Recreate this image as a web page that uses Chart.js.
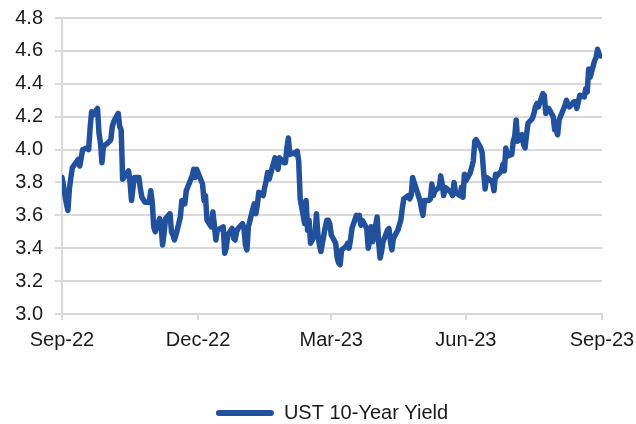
<!DOCTYPE html>
<html>
<head>
<meta charset="utf-8">
<script src="https://cdn.jsdelivr.net/npm/chart.js@4.4.1/dist/chart.umd.min.js"></script>
<style>
  html, body { margin: 0; padding: 0; background: #ffffff; }
  #wrap { width: 636px; height: 424px; position: relative; }
</style>
</head>
<body>
<div id="wrap"><canvas id="c" width="636" height="424"></canvas></div>
<script>
// ---- Data (UST 10-Year Yield, %, daily) ----
const seriesName = 'UST 10-Year Yield';

const dates = [
  '2022-09-30',
  '2022-10-03','2022-10-04','2022-10-05','2022-10-06','2022-10-07','2022-10-11','2022-10-12','2022-10-13','2022-10-14',
  '2022-10-17','2022-10-18','2022-10-19','2022-10-20','2022-10-21','2022-10-24','2022-10-25','2022-10-26','2022-10-27','2022-10-28','2022-10-31',
  '2022-11-01','2022-11-02','2022-11-03','2022-11-04','2022-11-07','2022-11-08','2022-11-09','2022-11-10','2022-11-14','2022-11-15',
  '2022-11-16','2022-11-17','2022-11-18','2022-11-21','2022-11-22','2022-11-23','2022-11-25','2022-11-28','2022-11-29','2022-11-30',
  '2022-12-01','2022-12-02','2022-12-05','2022-12-06','2022-12-07','2022-12-08','2022-12-09','2022-12-12','2022-12-13','2022-12-14',
  '2022-12-15','2022-12-16','2022-12-19','2022-12-20','2022-12-21','2022-12-22','2022-12-23','2022-12-27','2022-12-28','2022-12-29','2022-12-30',
  '2023-01-03','2023-01-04','2023-01-05','2023-01-06','2023-01-09','2023-01-10','2023-01-11','2023-01-12','2023-01-13','2023-01-17',
  '2023-01-18','2023-01-19','2023-01-20','2023-01-23','2023-01-24','2023-01-25','2023-01-26','2023-01-27','2023-01-30','2023-01-31',
  '2023-02-01','2023-02-02','2023-02-03','2023-02-06','2023-02-07','2023-02-08','2023-02-09','2023-02-10','2023-02-13','2023-02-14',
  '2023-02-15','2023-02-16','2023-02-17','2023-02-21','2023-02-22','2023-02-23','2023-02-24','2023-02-27','2023-02-28',
  '2023-03-01','2023-03-02','2023-03-03','2023-03-06','2023-03-07','2023-03-08','2023-03-09','2023-03-10','2023-03-13','2023-03-14',
  '2023-03-15','2023-03-16','2023-03-17','2023-03-20','2023-03-21','2023-03-22','2023-03-23','2023-03-24','2023-03-27','2023-03-28',
  '2023-03-29','2023-03-30','2023-03-31',
  '2023-04-03','2023-04-04','2023-04-05','2023-04-06','2023-04-07','2023-04-10','2023-04-11','2023-04-12','2023-04-13','2023-04-14',
  '2023-04-17','2023-04-18','2023-04-19','2023-04-20','2023-04-21','2023-04-24','2023-04-25','2023-04-26','2023-04-27','2023-04-28',
  '2023-05-01','2023-05-02','2023-05-03','2023-05-04','2023-05-05','2023-05-08','2023-05-09','2023-05-10','2023-05-11','2023-05-12',
  '2023-05-15','2023-05-16','2023-05-17','2023-05-18','2023-05-19','2023-05-22','2023-05-23','2023-05-24','2023-05-25','2023-05-26',
  '2023-05-30','2023-05-31',
  '2023-06-01','2023-06-02','2023-06-05','2023-06-06','2023-06-07','2023-06-08','2023-06-09','2023-06-12','2023-06-13','2023-06-14',
  '2023-06-15','2023-06-16','2023-06-20','2023-06-21','2023-06-22','2023-06-23','2023-06-26','2023-06-27','2023-06-28','2023-06-29','2023-06-30',
  '2023-07-03','2023-07-05','2023-07-06','2023-07-07','2023-07-10','2023-07-11','2023-07-12','2023-07-13','2023-07-14','2023-07-17',
  '2023-07-18','2023-07-19','2023-07-20','2023-07-21','2023-07-24','2023-07-25','2023-07-26','2023-07-27','2023-07-28','2023-07-31',
  '2023-08-01','2023-08-02','2023-08-03','2023-08-04','2023-08-07','2023-08-08','2023-08-09','2023-08-10','2023-08-11','2023-08-14',
  '2023-08-15','2023-08-16','2023-08-17','2023-08-18','2023-08-21','2023-08-22','2023-08-23','2023-08-24','2023-08-25','2023-08-28',
  '2023-08-29','2023-08-30','2023-08-31',
  '2023-09-01','2023-09-05','2023-09-06','2023-09-07','2023-09-08','2023-09-11','2023-09-12','2023-09-13','2023-09-14','2023-09-15',
  '2023-09-18','2023-09-19','2023-09-20','2023-09-21','2023-09-22','2023-09-25','2023-09-26','2023-09-27','2023-09-28','2023-09-29'
];

const yields = [
  3.83,
  3.67,3.63,3.76,3.83,3.89,3.94,3.90,3.95,4.00,
  4.01,4.00,4.13,4.23,4.21,4.25,4.10,4.04,3.92,4.02,4.04,
  4.05,4.06,4.14,4.17,4.22,4.14,4.12,3.82,3.87,3.80,
  3.69,3.77,3.83,3.83,3.76,3.71,3.68,3.68,3.75,3.68,
  3.53,3.50,3.58,3.53,3.42,3.49,3.58,3.61,3.50,3.48,
  3.45,3.48,3.59,3.69,3.68,3.67,3.75,3.84,3.88,3.83,3.88,
  3.79,3.69,3.72,3.57,3.53,3.62,3.54,3.45,3.51,3.53,
  3.37,3.40,3.48,3.52,3.46,3.45,3.50,3.52,3.55,3.52,
  3.42,3.39,3.53,3.64,3.67,3.61,3.66,3.74,3.72,3.77,
  3.81,3.86,3.82,3.95,3.92,3.88,3.95,3.92,3.92,
  4.01,4.07,3.97,3.98,3.97,3.99,3.93,3.70,3.55,3.69,
  3.51,3.57,3.43,3.48,3.61,3.48,3.42,3.38,3.53,3.57,
  3.57,3.55,3.48,
  3.43,3.34,3.31,3.30,3.39,3.41,3.43,3.40,3.45,3.52,
  3.60,3.59,3.60,3.54,3.57,3.52,3.40,3.45,3.53,3.44,
  3.59,3.44,3.34,3.38,3.44,3.51,3.52,3.44,3.39,3.46,
  3.51,3.54,3.57,3.64,3.70,3.72,3.70,3.72,3.83,3.80,
  3.69,3.64,
  3.60,3.69,3.69,3.70,3.79,3.72,3.75,3.77,3.84,3.79,
  3.72,3.77,3.74,3.72,3.80,3.74,3.72,3.77,3.71,3.85,3.81,
  3.86,3.93,4.05,4.06,4.01,3.98,3.86,3.76,3.83,3.81,
  3.80,3.75,3.85,3.84,3.87,3.91,3.87,4.01,3.96,3.97,
  4.05,4.08,4.18,4.05,4.09,4.03,4.01,4.09,4.16,4.19,
  4.22,4.26,4.28,4.26,4.34,4.33,4.22,4.24,4.25,4.20,
  4.12,4.12,4.09,
  4.18,4.27,4.30,4.27,4.26,4.29,4.29,4.25,4.29,4.33,
  4.32,4.37,4.35,4.49,4.44,4.54,4.56,4.61,4.58,4.57
];

const axisStart = '2022-09-30';
const axisEnd = '2023-09-30';
const tickDates = ['2022-09-30', '2022-12-31', '2023-03-31', '2023-06-30', '2023-09-30'];
const tickLabels = ['Sep-22', 'Dec-22', 'Mar-23', 'Jun-23', 'Sep-23'];

const yMin = 3.0, yMax = 4.8, yStep = 0.2;

// ---- Build ----
const DAY = 86400000;
const dayOffset = d => (Date.parse(d + 'T00:00:00Z') - Date.parse(axisStart + 'T00:00:00Z')) / DAY;
const points = dates.map((d, i) => ({ x: dayOffset(d), y: yields[i] }));

const lineColor = '#21519C';
const gridColor = '#d9d9d9';
const textColor = '#1a1a1a';
const fontFamily = '"Liberation Sans", Arial, Helvetica, sans-serif';

// Nudge the bottom legend to where the reference places it
const legendShift = {
  id: 'legendShift',
  afterLayout(chart) {
    const lg = chart.legend;
    if (!lg) return;
    lg.left += 31; lg.right += 31;
    lg.top += 9; lg.bottom += 9;
  }
};

new Chart(document.getElementById('c'), {
  type: 'line',
  data: {
    datasets: [{
      label: seriesName,
      data: points,
      borderColor: lineColor,
      backgroundColor: lineColor,
      borderWidth: 5.5,
      pointRadius: 0,
      pointHoverRadius: 0,
      tension: 0,
      borderJoinStyle: 'round',
      borderCapStyle: 'round',
      fill: false
    }]
  },
  options: {
    responsive: false,
    animation: false,
    layout: { padding: { left: 0, right: 34, top: 18, bottom: 0 } },
    plugins: {
      tooltip: { enabled: false },
      legend: {
        display: true,
        position: 'bottom',
        labels: {
          color: textColor,
          font: { family: fontFamily, size: 20 },
          boxWidth: 58,
          boxHeight: 6,
          padding: 10,
          generateLabels: (chart) => [{
            text: seriesName,
            fillStyle: lineColor,
            strokeStyle: lineColor,
            lineWidth: 0,
            borderRadius: 3,
            hidden: false,
            datasetIndex: 0,
            fontColor: textColor
          }]
        }
      }
    },
    scales: {
      x: {
        type: 'linear',
        min: 0,
        max: dayOffset(axisEnd),
        afterBuildTicks: (scale) => {
          scale.ticks = tickDates.map(d => ({ value: dayOffset(d) }));
        },
        afterFit: (scale) => { scale.height = 70; scale.paddingLeft = 0; scale.paddingRight = 0; },
        ticks: {
          autoSkip: false,
          maxRotation: 0,
          minRotation: 0,
          padding: 8,
          color: textColor,
          font: { family: fontFamily, size: 20 },
          callback: (v, i) => tickLabels[i]
        },
        grid: {
          drawOnChartArea: false,
          drawTicks: true,
          tickLength: 6,
          color: gridColor,
          lineWidth: 2
        },
        border: { display: true, color: gridColor, width: 2 }
      },
      y: {
        type: 'linear',
        min: yMin,
        max: yMax,
        afterFit: (scale) => { scale.width = 62; scale.paddingTop = 0; scale.paddingBottom = 0; },
        ticks: {
          stepSize: yStep,
          padding: 12,
          color: textColor,
          font: { family: fontFamily, size: 20 },
          callback: (v) => Number(v).toFixed(1)
        },
        grid: {
          color: gridColor,
          lineWidth: 2,
          tickLength: 7,
          drawTicks: true
        },
        border: { display: true, color: gridColor, width: 2 }
      }
    }
  },
  plugins: [legendShift]
});
</script>
</body>
</html>
